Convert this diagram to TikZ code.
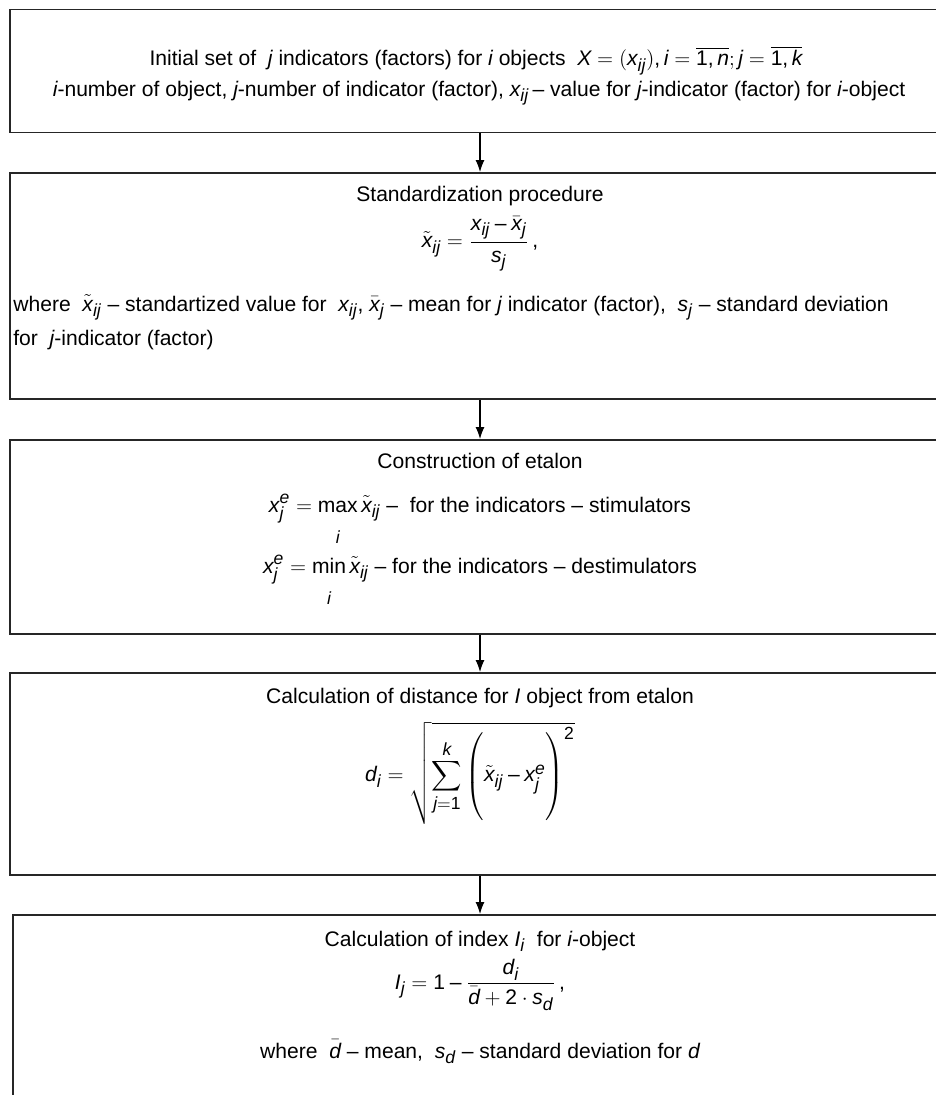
\documentclass[tikz,border=0pt]{standalone}
\usepackage{amsmath}
\usepackage{fontspec}
\setmainfont{Liberation Sans}
\usepackage[italic]{mathastext}
\usetikzlibrary{positioning,arrows.meta}

\begin{document}
\begin{tikzpicture}[
  x=0.02cm, y=-0.02cm,
  panel/.style={draw=black!85, line width=1.1pt, minimum width=18.8cm, inner sep=0pt},
  txt/.style={inner sep=0pt, font=\fontsize{12}{14}\selectfont},
  arr/.style={line width=0.7pt, -{Latex[length=2.4mm, width=1.8mm]}}
]
\useasboundingbox (0,0) rectangle (936,1095);
\clip (0,0) rectangle (936,1095);
\node[panel, minimum height=2.46cm] (setbox) at (480,71) {};
\node[panel, minimum height=4.52cm] (stdbox) at (480,286) {};
\node[panel, minimum height=3.88cm] (etabox) at (480,537) {};
\node[panel, minimum height=4.04cm] (distbox) at (480,774) {};
\node[panel, minimum width=18.68cm, minimum height=4cm] (idxbox) at (480,1015) {};

\node[txt, anchor=base] (settitle) at (476,66) {Initial set of \ $j$ indicators (factors) for $i$ objects \ $X=(x_{ij}), i=\overline{\text{1},n}; j=\overline{\text{1},k}$};
\node[txt, anchor=base] (setnote) at (479,96) {$i$-number of object, $j$-number of indicator (factor), $x_{ij}$\,– value for $j$-indicator (factor) for $i$-object};

\node[txt, anchor=base] (stdtitle) at (480,201) {Standardization procedure};
\node[txt] (stdformula) at (480,244) {$\displaystyle \tilde{x}_{ij}=\frac{x_{ij}-\bar{x}_j}{s_j}\,,$};
\node[txt, anchor=base west] (stdnote) at (13,311) {where \ $\tilde{x}_{ij}$ – standartized value for \ $x_{ij},$ $\bar{x}_j$ – mean for $j$ indicator (factor), \ $s_j$ – standard deviation};
\node[txt, anchor=base west] (stdnoteb) at (13,345) {for \ $j$-indicator (factor)};

\node[txt, anchor=base] (etatitle) at (480,468) {Construction of etalon};
\node[txt, anchor=base] (etamax) at (480,512) {$\displaystyle x_j^e=\max\limits_{\rule{0pt}{16pt}i}\tilde{x}_{ij}$ – \ for the indicators – stimulators};
\node[txt, anchor=base] (etamin) at (480,573) {$\displaystyle x_j^e=\min\limits_{\rule{0pt}{16pt}i}\tilde{x}_{ij}$ – for the indicators – destimulators};

\node[txt, anchor=base] (disttitle) at (480,703) {Calculation of distance for $I$ object from etalon};
\node[txt] (distformula) at (470,773) {$\displaystyle d_i=\sqrt{\sum_{j=\text{1}}^{k}\left(\rule[-24pt]{0pt}{50pt}\tilde{x}_{ij}-x_j^e\right)^{\text{2}}}$};

\node[txt, anchor=base] (idxtitle) at (480,946) {Calculation of index $I_i$ \ for $i$-object};
\node[txt] (idxformula) at (480,985) {$\displaystyle I_j=\text{1}-\frac{d_i}{\bar{d}+\text{2}\cdot s_d}\,,$};
\node[txt, anchor=base] (idxnote) at (480,1058) {where \ $\bar{d}$ – mean, \ $s_d$ – standard deviation for $d$};

\draw[arr] (setbox) -- (stdbox);
\draw[arr] (stdbox) -- (etabox);
\draw[arr] (etabox) -- (distbox);
\draw[arr] (distbox) -- (idxbox);
\end{tikzpicture}
\end{document}
